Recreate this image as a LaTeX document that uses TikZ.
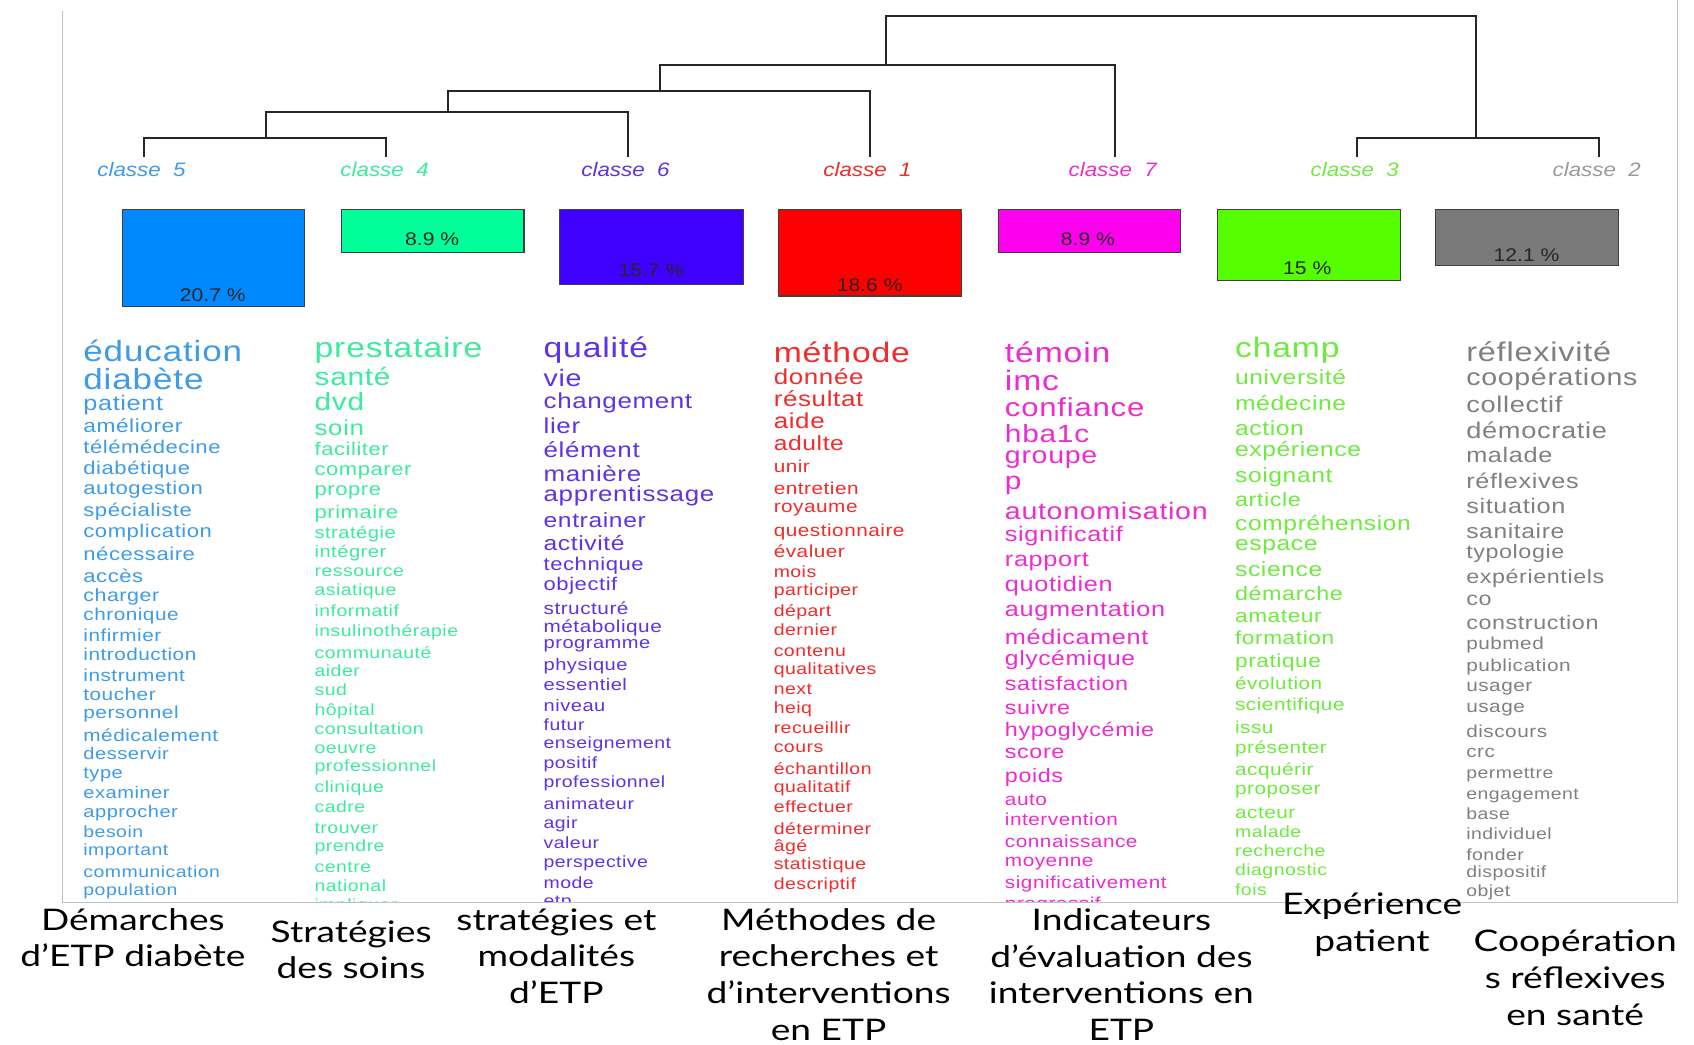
\documentclass[tikz,border=0pt]{standalone}
\usepackage{fontspec}
\newfontfamily\wf[FakeStretch=1.2,LetterSpace=3]{Liberation Sans}
\newfontfamily\cf[FakeStretch=1.15]{Liberation Sans}
\newfontfamily\lf[FakeStretch=1.25]{Lato}
\definecolor{b5}{HTML}{0088FF}\definecolor{t5}{HTML}{3D9BEA}
\definecolor{b4}{HTML}{00FF99}\definecolor{t4}{HTML}{3DEB9F}
\definecolor{b6}{HTML}{3F00FF}\definecolor{t6}{HTML}{5C33E6}
\definecolor{b1}{HTML}{FF0000}\definecolor{t1}{HTML}{F22B2B}
\definecolor{b7}{HTML}{FF00EE}\definecolor{t7}{HTML}{EE2BCF}
\definecolor{b3}{HTML}{55FF00}\definecolor{t3}{HTML}{6FEA3F}
\definecolor{b2}{HTML}{7A7A7A}\definecolor{t2}{HTML}{808080}
\newcommand\wordcol[4]{%
  \foreach \yy/\fs/\ww [count=\i] in {#4} {
    \node[word, text=#3, font=\wf\fontsize{\fs}{\fs}\selectfont] (w#1-\i) at (#2,{\yy+0.27*\fs}) {\ww};
  }}
\begin{document}
\begin{tikzpicture}[x=1pt,y=-1pt,
  word/.style={anchor=mid west, inner sep=0pt},
  dend/.style={line width=1.6pt, black!85},
  cls/.style={inner sep=0pt, font=\cf\itshape\fontsize{18}{18}\selectfont},
  bar/.style={draw=black!75, line width=1pt},
  pct/.style={inner sep=0pt, text=black!85, font=\cf\fontsize{17}{17}\selectfont},
  lab/.style={align=center, inner sep=0pt, text=black, font=\lf\fontsize{27.5}{34}\selectfont},
  frame/.style={draw=black!25, line width=0.8pt}]
\useasboundingbox (0,0) rectangle (1568,967);
\fill[white] (0,0) rectangle (1568,967);
% frame
\draw[frame] (58,10) -- (58,835) -- (1553,835) -- (1553,0);
% dendrogram
\draw[dend] (133,145) -- (133,128) -- (357,128) -- (357,145);
\draw[dend] (246,128) -- (246,104) -- (581,104) -- (581,145);
\draw[dend] (415,104) -- (415,84) -- (805,84) -- (805,145);
\draw[dend] (611,84) -- (611,60) -- (1032,60) -- (1032,145);
\draw[dend] (1256,145) -- (1256,128) -- (1480,128) -- (1480,145);
\draw[dend] (820,60) -- (820,15) -- (1366,15) -- (1366,128);
% class labels
\node[cls, text=t5] (c5) at (131,157) {classe\ \ 5};
\node[cls, text=t4] (c4) at (356,157) {classe\ \ 4};
\node[cls, text=t6] (c6) at (579,157) {classe\ \ 6};
\node[cls, text=t1] (c1) at (803,157) {classe\ \ 1};
\node[cls, text=t7] (c7) at (1030,157) {classe\ \ 7};
\node[cls, text=t3] (c3) at (1254,157) {classe\ \ 3};
\node[cls, text=t2!80] (c2) at (1478,157) {classe\ \ 2};
% bars
\draw[bar, fill=b5] (113,194) rectangle (282,284);
\draw[bar, fill=b4] (316,194) rectangle (485,234);
\draw[bar, fill=b6] (518,194) rectangle (688,263);
\draw[bar, fill=b1] (721,194) rectangle (890,274);
\draw[bar, fill=b7] (924,194) rectangle (1093,234);
\draw[bar, fill=b3] (1127,194) rectangle (1296,260);
\draw[bar, fill=b2] (1329,194) rectangle (1498,246);
\node[pct] (p5) at (197,273) {20.7 \%};
\node[pct] (p4) at (400,221) {8.9 \%};
\node[pct] (p6) at (603,250) {15.7 \%};
\node[pct] (p1) at (805,264) {18.6 \%};
\node[pct] (p7) at (1007,221) {8.9 \%};
\node[pct] (p3) at (1210,248) {15 \%};
\node[pct] (p2) at (1413,236) {12.1 \%};
% word columns
\begin{scope}
\clip (0,0) rectangle (1568,834);
\wordcol{5}{77}{t5}{325/27/éducation, 351/27/diabète, 373/19.5/patient, 393/17.5/améliorer, 413/17/télémédecine, 432/17/diabétique, 451/17/autogestion, 471/17/spécialiste, 491/17/complication, 512/17/nécessaire, 532/17/accès, 550/16.5/charger, 568/16/chronique, 587/16/infirmier, 605/16/introduction, 624/16/instrument, 642/16/toucher, 659/16/personnel, 680/16/médicalement, 697/15.5/desservir, 714/15.5/type, 733/15.5/examiner, 750/15.5/approcher, 769/15/besoin, 786/15/important, 806/15/communication, 823/15/population}
\wordcol{4}{291}{t4}{322/26/prestataire, 348/23/santé, 372/23/dvd, 396/20/soin, 415/17/faciliter, 433/17/comparer, 452/17/propre, 473/17/primaire, 492/15.5/stratégie, 510/15.5/intégrer, 527/15/ressource, 545/15/asiatique, 564/15/informatif, 583/15/insulinothérapie, 603/15/communauté, 620/15/aider, 638/15/sud, 656/15/hôpital, 674/15/consultation, 691/15/oeuvre, 708/15/professionnel, 727/15/clinique, 746/15/cadre, 765/15/trouver, 782/15/prendre, 801/15/centre, 819/15/national, 837/15/impliquer}
\wordcol{6}{503}{t6}{322/26/qualité, 350/22/vie, 371/20/changement, 394/20/lier, 416/20/élément, 438/20/manière, 457/20/apprentissage, 481/19/entrainer, 502/19/activité, 521/17/technique, 540/17/objectif, 562/16/structuré, 579/16/métabolique, 594/15.5/programme, 614/15.5/physique, 633/15.5/essentiel, 652/15.5/niveau, 670/15/futur, 687/15/enseignement, 705/15/positif, 723/15/professionnel, 743/15/animateur, 761/15/agir, 779/15/valeur, 797/15/perspective, 816/15/mode, 833/15/etp}
\wordcol{1}{716}{t1}{326/26/méthode, 348/20/donnée, 369/20/résultat, 389/20/aide, 410/19/adulte, 431/16/unir, 451/16/entretien, 468/16/royaume, 490/16/questionnaire, 510/16/évaluer, 528/15/mois, 545/15/participer, 564/15/départ, 582/15/dernier, 601/15/contenu, 618/15/qualitatives, 637/15/next, 654/15/heiq, 673/15/recueillir, 690/15/cours, 711/15/échantillon, 727/15/qualitatif, 746/15/effectuer, 766/15/déterminer, 782/15/âgé, 799/15/statistique, 817/15/descriptif}
\wordcol{7}{930}{t7}{326/26/témoin, 352/26/imc, 377/24/confiance, 401/23/hba1c, 421/22/groupe, 445/23/p, 473/22/autonomisation, 494/19.5/significatif, 517/19.5/rapport, 540/19.5/quotidien, 563/19.5/augmentation, 589/19.5/médicament, 609/19/glycémique, 632/18/satisfaction, 654/18/suivre, 675/18/hypoglycémie, 695/18/score, 717/18/poids, 739/16/auto, 758/16/intervention, 778/16/connaissance, 796/16/moyenne, 816/16/significativement, 835/16/progressif}
\wordcol{3}{1143}{t3}{322/26/champ, 349/19/université, 373/19/médecine, 396/19/action, 415/19/expérience, 439/19/soignant, 462/18/article, 484/19/compréhension, 502/19/espace, 526/19/science, 549/18/démarche, 569/17.5/amateur, 590/17.5/formation, 611/17.5/pratique, 632/16/évolution, 651/16/scientifique, 672/16/issu, 691/16/présenter, 711/16/acquérir, 729/16/proposer, 751/16/acteur, 769/15/malade, 787/15/recherche, 804/15/diagnostic, 823/15/fois}
\wordcol{2}{1357}{t2}{326/25/réflexivité, 349/22/coopérations, 374/21/collectif, 398/21/démocratie, 421/19.5/malade, 445/19.5/réflexives, 468/19.5/situation, 491/19/sanitaire, 510/18/typologie, 533/18/expérientiels, 553/18/co, 576/18/construction, 595/16/pubmed, 615/16/publication, 634/16/usager, 653/16/usage, 676/16/discours, 695/16/crc, 714/15/permettre, 734/15/engagement, 752/15/base, 771/15/individuel, 790/15/fonder, 806/15/dispositif, 824/15/objet}
\end{scope}
% bottom labels
\node[lab] (l5) at (123,868) {Démarches\\d’ETP diabète};
\node[lab] (l4) at (325,879) {Stratégies\\des soins};
\node[lab] (l6) at (515,885) {stratégies et\\modalités\\d’ETP};
\node[lab] (l1) at (767,902) {Méthodes de\\recherches et\\d’interventions\\en ETP};
\node[lab] (l7) at (1038,902) {Indicateurs\\d’évaluation des\\interventions en\\ETP};
\node[lab] (l3) at (1270,856) {Expérience\\patient};
\node[lab] (l2) at (1458,905) {Coopération\\s réflexives\\en santé};
\end{tikzpicture}
\end{document}
